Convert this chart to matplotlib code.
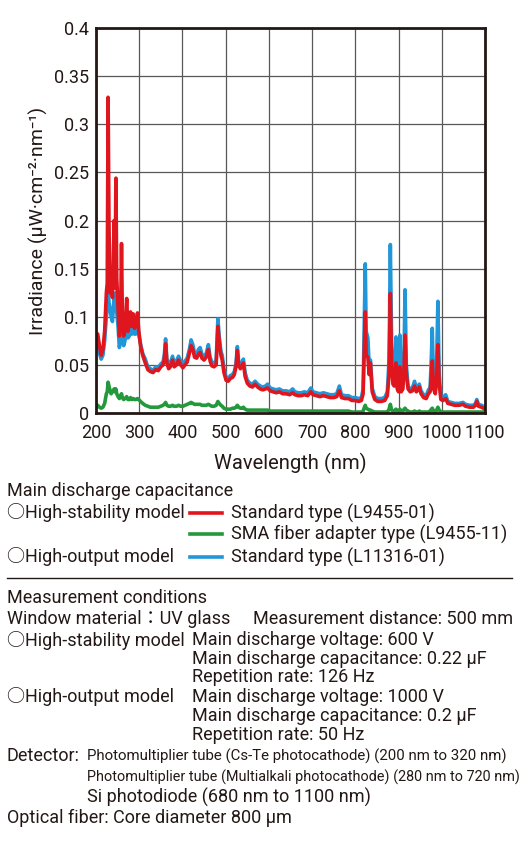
import matplotlib
matplotlib.use("Agg")
import matplotlib.pyplot as plt
from matplotlib.lines import Line2D

plt.rcParams['font.family'] = ['Roboto', 'Noto Sans CJK JP', 'DejaVu Sans']

# wavelength grid (nm) shared by the three spectra
wavelength = [
    200, 204, 208, 212, 216, 220, 224, 226, 228, 230, 232, 235, 238, 242, 244, 246, 248, 251, 254, 257,
    259, 261, 264, 267, 271, 274, 277, 280, 283, 286, 289, 292, 296, 299, 303, 308, 314, 320, 326, 332,
    338, 344, 350, 355, 358, 361, 364, 368, 372, 377, 381, 386, 391, 396, 401, 406, 411, 416, 420, 424,
    428, 433, 437, 441, 445, 450, 455, 460, 464, 468, 473, 478, 482, 485, 489, 492, 496, 501, 506, 511,
    516, 520, 524, 527, 530, 534, 538, 541, 545, 550, 556, 562, 568, 574, 580, 586, 592, 597, 603, 610,
    617, 624, 632, 640, 648, 655, 660, 668, 675, 682, 690, 697, 702, 710, 718, 726, 734, 742, 750, 757,
    763, 768, 776, 784, 792, 800, 808, 814, 818, 821, 823, 825, 829, 832, 835, 839, 845, 852, 860, 868,
    874, 878, 881, 884, 887, 890, 894, 897, 900, 903, 906, 910, 913, 915, 918, 922, 927, 932, 937, 941,
    945, 948, 952, 958, 964, 969, 973, 976, 978, 981, 985, 988, 991, 994, 998, 1003, 1009, 1014, 1022, 1030,
    1040, 1049, 1055, 1065, 1073, 1078, 1081, 1085, 1092, 1100,
]

# Standard type (L9455-01), high-stability model
red = [
    0.083, 0.082, 0.070, 0.060, 0.066, 0.085, 0.125, 0.135, 0.328, 0.200, 0.125, 0.135, 0.120, 0.200, 0.130, 0.244, 0.140, 0.110, 0.080, 0.095,
    0.176, 0.100, 0.080, 0.085, 0.119, 0.085, 0.095, 0.105, 0.090, 0.103, 0.088, 0.090, 0.104, 0.085, 0.070, 0.060, 0.052, 0.045, 0.043, 0.042,
    0.045, 0.044, 0.048, 0.050, 0.056, 0.072, 0.052, 0.046, 0.048, 0.055, 0.048, 0.050, 0.055, 0.050, 0.047, 0.050, 0.053, 0.062, 0.070, 0.066,
    0.058, 0.057, 0.061, 0.063, 0.057, 0.055, 0.058, 0.066, 0.054, 0.049, 0.048, 0.050, 0.090, 0.075, 0.060, 0.055, 0.042, 0.034, 0.033, 0.036,
    0.037, 0.040, 0.048, 0.065, 0.050, 0.046, 0.049, 0.052, 0.038, 0.031, 0.028, 0.027, 0.030, 0.027, 0.025, 0.024, 0.025, 0.026, 0.023, 0.022,
    0.021, 0.022, 0.020, 0.020, 0.019, 0.021, 0.019, 0.018, 0.018, 0.019, 0.018, 0.022, 0.019, 0.018, 0.017, 0.018, 0.017, 0.016, 0.016, 0.017,
    0.023, 0.016, 0.015, 0.015, 0.013, 0.013, 0.012, 0.013, 0.020, 0.070, 0.105, 0.060, 0.058, 0.040, 0.052, 0.022, 0.014, 0.012, 0.012, 0.013,
    0.018, 0.040, 0.124, 0.050, 0.030, 0.028, 0.052, 0.025, 0.022, 0.048, 0.022, 0.025, 0.050, 0.081, 0.040, 0.025, 0.022, 0.023, 0.028, 0.022,
    0.024, 0.027, 0.020, 0.016, 0.015, 0.020, 0.022, 0.040, 0.054, 0.025, 0.020, 0.035, 0.071, 0.030, 0.014, 0.013, 0.015, 0.010, 0.009, 0.008,
    0.008, 0.009, 0.007, 0.006, 0.006, 0.008, 0.012, 0.007, 0.006, 0.004,
]

# SMA fiber adapter type (L9455-11)
green = [
    0.008, 0.008, 0.006, 0.005, 0.006, 0.010, 0.020, 0.022, 0.032, 0.028, 0.024, 0.020, 0.022, 0.025, 0.022, 0.025, 0.020, 0.017, 0.015, 0.018,
    0.020, 0.016, 0.014, 0.015, 0.017, 0.014, 0.014, 0.016, 0.014, 0.015, 0.014, 0.014, 0.015, 0.014, 0.012, 0.010, 0.008, 0.007, 0.006, 0.006,
    0.006, 0.006, 0.007, 0.008, 0.009, 0.011, 0.008, 0.007, 0.007, 0.008, 0.007, 0.007, 0.008, 0.007, 0.007, 0.008, 0.009, 0.010, 0.011, 0.010,
    0.009, 0.009, 0.009, 0.009, 0.008, 0.008, 0.008, 0.009, 0.008, 0.007, 0.007, 0.008, 0.012, 0.010, 0.008, 0.007, 0.005, 0.004, 0.004, 0.004,
    0.005, 0.005, 0.006, 0.008, 0.006, 0.005, 0.005, 0.006, 0.004, 0.003, 0.003, 0.003, 0.003, 0.003, 0.003, 0.003, 0.003, 0.003, 0.002, 0.002,
    0.002, 0.002, 0.002, 0.002, 0.002, 0.002, 0.002, 0.002, 0.002, 0.002, 0.002, 0.002, 0.002, 0.002, 0.002, 0.002, 0.002, 0.002, 0.002, 0.002,
    0.002, 0.002, 0.002, 0.002, 0.001, 0.001, 0.001, 0.001, 0.002, 0.006, 0.008, 0.005, 0.004, 0.003, 0.003, 0.002, 0.001, 0.001, 0.001, 0.001,
    0.001, 0.004, 0.009, 0.003, 0.002, 0.002, 0.004, 0.002, 0.002, 0.004, 0.002, 0.002, 0.004, 0.005, 0.003, 0.002, 0.001, 0.001, 0.002, 0.001,
    0.001, 0.002, 0.001, 0.001, 0.001, 0.001, 0.002, 0.004, 0.005, 0.002, 0.001, 0.003, 0.006, 0.003, 0.001, 0.001, 0.001, 0.001, 0.001, 0.001,
    0.001, 0.001, 0.001, 0.001, 0.001, 0.001, 0.001, 0.001, 0.001, 0.001,
]

# Standard type (L11316-01), high-output model
blue = [
    0.068, 0.070, 0.062, 0.056, 0.060, 0.075, 0.100, 0.108, 0.130, 0.115, 0.110, 0.100, 0.095, 0.120, 0.110, 0.125, 0.105, 0.090, 0.068, 0.075,
    0.095, 0.085, 0.070, 0.075, 0.090, 0.078, 0.080, 0.088, 0.082, 0.090, 0.082, 0.082, 0.092, 0.082, 0.072, 0.062, 0.056, 0.048, 0.046, 0.044,
    0.048, 0.047, 0.051, 0.053, 0.060, 0.077, 0.056, 0.050, 0.052, 0.059, 0.052, 0.054, 0.059, 0.054, 0.051, 0.054, 0.057, 0.066, 0.076, 0.071,
    0.062, 0.061, 0.066, 0.068, 0.061, 0.059, 0.062, 0.071, 0.058, 0.053, 0.052, 0.054, 0.098, 0.080, 0.064, 0.060, 0.046, 0.037, 0.036, 0.039,
    0.040, 0.043, 0.052, 0.069, 0.054, 0.050, 0.053, 0.056, 0.042, 0.034, 0.031, 0.030, 0.033, 0.030, 0.028, 0.027, 0.028, 0.030, 0.026, 0.025,
    0.024, 0.025, 0.023, 0.023, 0.022, 0.025, 0.022, 0.021, 0.021, 0.022, 0.021, 0.026, 0.022, 0.021, 0.020, 0.021, 0.020, 0.019, 0.019, 0.020,
    0.028, 0.019, 0.018, 0.018, 0.016, 0.016, 0.015, 0.016, 0.025, 0.100, 0.155, 0.085, 0.078, 0.050, 0.055, 0.026, 0.017, 0.015, 0.015, 0.016,
    0.022, 0.055, 0.175, 0.070, 0.036, 0.032, 0.079, 0.030, 0.026, 0.081, 0.026, 0.030, 0.070, 0.128, 0.050, 0.028, 0.025, 0.026, 0.033, 0.026,
    0.028, 0.030, 0.023, 0.019, 0.018, 0.024, 0.026, 0.060, 0.088, 0.030, 0.024, 0.050, 0.116, 0.040, 0.017, 0.016, 0.019, 0.012, 0.011, 0.010,
    0.010, 0.011, 0.009, 0.008, 0.008, 0.010, 0.014, 0.009, 0.008, 0.006,
]

x_ticks = [200, 300, 400, 500, 600, 700, 800, 900, 1000, 1100]
y_ticks = [0, 0.05, 0.1, 0.15, 0.2, 0.25, 0.3, 0.35, 0.4]
y_tick_labels = ['0', '0.05', '0.1', '0.15', '0.2', '0.25', '0.3', '0.35', '0.4']

RED = '#e0161e'
GREEN = '#23993c'
BLUE = '#2196d8'
INK = '#231815'

W, H = 524, 843
fig = plt.figure(figsize=(W / 100, H / 100), dpi=100)
ax = fig.add_axes([96 / W, 1 - 413 / H, (485 - 96) / W, (413 - 28) / H])

ax.plot(wavelength, blue, color=BLUE, lw=2.6, solid_joinstyle='round')
ax.plot(wavelength, green, color=GREEN, lw=2.6, solid_joinstyle='round')
ax.plot(wavelength, red, color=RED, lw=2.6, solid_joinstyle='round')

ax.set_xlim(200, 1100)
ax.set_ylim(0, 0.4)
ax.set_xticks(x_ticks)
ax.set_yticks(y_ticks)
ax.set_yticklabels(y_tick_labels)
ax.tick_params(length=0, labelsize=13, colors=INK)
ax.tick_params(axis='x', pad=8)
ax.tick_params(axis='y', pad=5)
ax.grid(True, color='#595757', lw=0.9)
ax.set_axisbelow(True)
for s in ax.spines.values():
    s.set_linewidth(2)
    s.set_color(INK)

ax.set_xlabel('Wavelength (nm)', fontsize=14.5, color=INK, labelpad=8)
ax.set_ylabel('Irradiance (µW·cm⁻²·nm⁻¹)', fontsize=14, color=INK, labelpad=4)


def px(x, y):
    return x / W, 1 - y / H


def put(x, y, s, **kw):
    kw.setdefault('fontsize', 13)
    return fig.text(*px(x, y), s, ha='left', va='center', color=INK, **kw)


# legend block
put(7, 491, 'Main discharge capacitance')
put(7, 513, '○High-stability model')
put(7, 557, '○High-output model')
for yy, c, label in [(513, RED, 'Standard type (L9455-01)'),
                     (534, GREEN, 'SMA fiber adapter type (L9455-11)'),
                     (557, BLUE, 'Standard type (L11316-01)')]:
    x0, y0 = px(190, yy)
    x1, _ = px(222, yy)
    fig.add_artist(Line2D([x0, x1], [y0, y0], color=c, lw=2.6))
    put(231, yy, label)

xa, ya = px(7, 578)
xb, _ = px(512, 578)
fig.add_artist(Line2D([xa, xb], [ya, ya], color=INK, lw=1))

# measurement conditions
put(7, 598, 'Measurement conditions')
put(7, 619, 'Window material：UV glass')
put(253, 619, 'Measurement distance: 500 mm')
put(7, 640, '○High-stability model')
put(192, 640, 'Main discharge voltage: 600 V')
put(192, 659, 'Main discharge capacitance: 0.22 µF')
put(192, 677, 'Repetition rate: 126 Hz')
put(7, 697, '○High-output model')
put(192, 697, 'Main discharge voltage: 1000 V')
put(192, 716, 'Main discharge capacitance: 0.2 µF')
put(192, 735, 'Repetition rate: 50 Hz')
put(7, 756, 'Detector:')
pmt1 = put(87, 756, 'Photomultiplier tube (Cs-Te photocathode) (200 nm to 320 nm)')
pmt2 = put(87, 777, 'Photomultiplier tube (Multialkali photocathode) (280 nm to 720 nm)')
put(87, 797, 'Si photodiode (680 nm to 1100 nm)')
put(7, 818, 'Optical fiber: Core diameter 800 µm')

# the detector lines are set narrow in the original; shrink them to the same width
renderer = fig.canvas.get_renderer()
for t, target in [(pmt1, 421), (pmt2, 431)]:
    w = t.get_window_extent(renderer).width
    t.set_fontsize(t.get_fontsize() * target / w)

fig.savefig('out.png', dpi=100)
